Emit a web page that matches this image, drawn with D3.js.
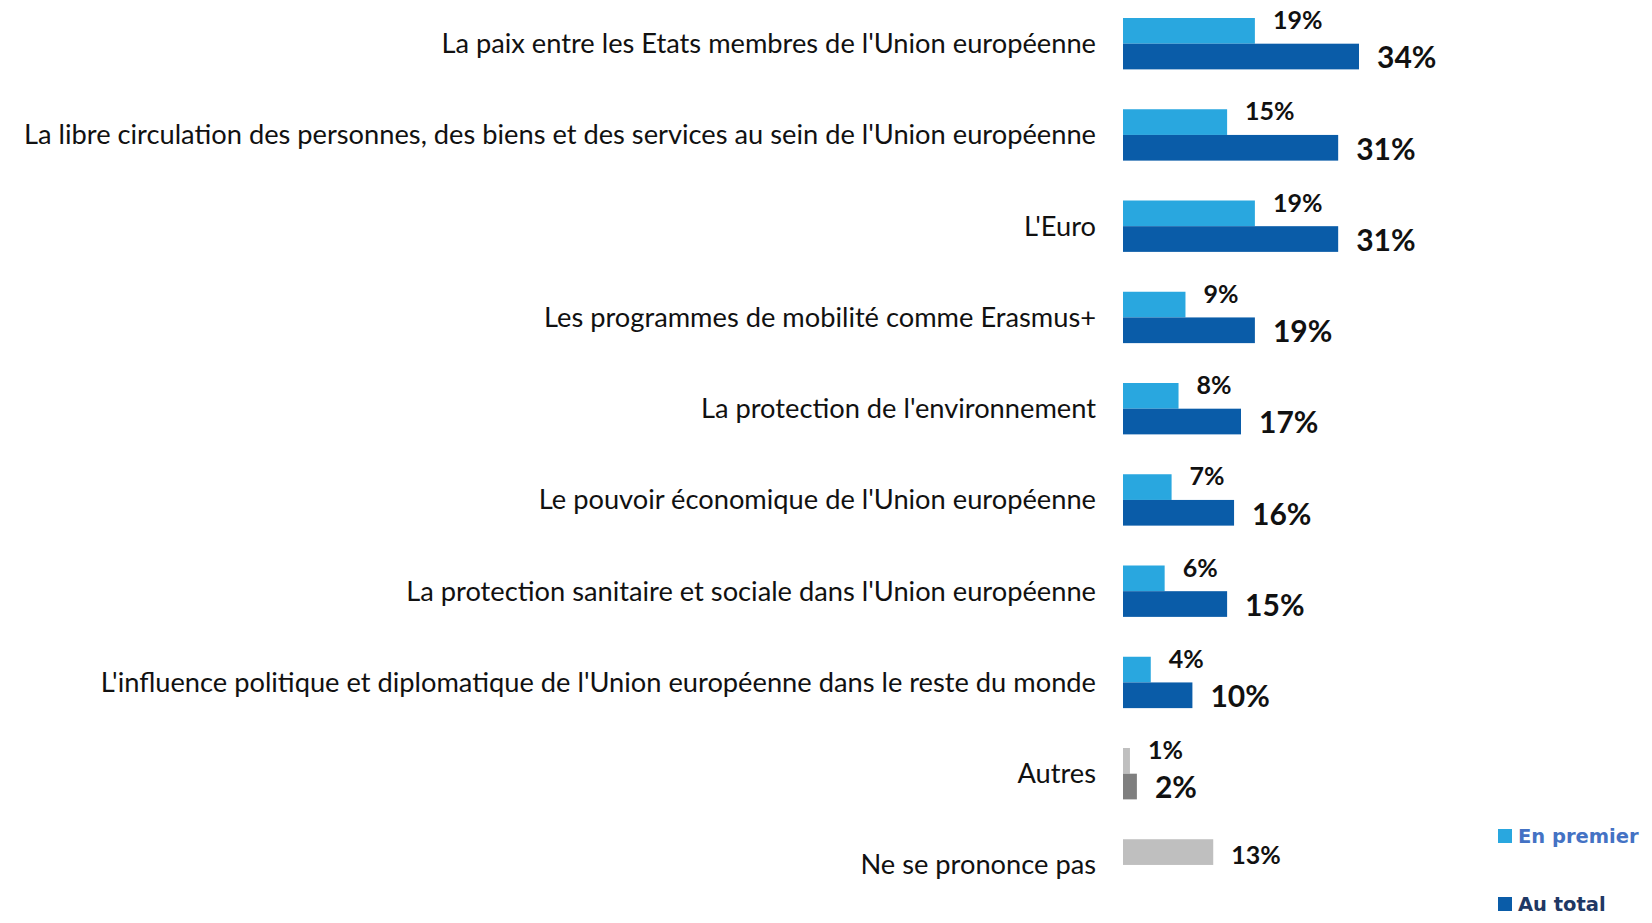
<!DOCTYPE html>
<html>
<head>
<meta charset="utf-8">
<script src="https://cdn.jsdelivr.net/npm/d3@7"></script>
<style>
  html, body { margin: 0; padding: 0; background: #fff; }
  svg { display: block; }
</style>
</head>
<body>
<svg id="chart"></svg>
<script>
// --- data ---
const categories = [
    "La paix entre les Etats membres de l'Union européenne",
    "La libre circulation des personnes, des biens et des services au sein de l'Union européenne",
    "L'Euro",
    "Les programmes de mobilité comme Erasmus+",
    "La protection de l'environnement",
    "Le pouvoir économique de l'Union européenne",
    "La protection sanitaire et sociale dans l'Union européenne",
    "L'influence politique et diplomatique de l'Union européenne dans le reste du monde",
    "Autres",
    "Ne se prononce pas"
];
const enPremier = [19, 15, 19, 9, 8, 7, 6, 4, 1, 13];
const auTotal = [34, 31, 31, 19, 17, 16, 15, 10, 2, null];
const seriesNames = ["En premier", "Au total"];

document.addEventListener("DOMContentLoaded", () => {
    const width = 1652, height = 923;
    const svg = d3.select("#chart").attr("width", width).attr("height", height);

    const barX0 = 1123;
    const labelRight = 1096;

    // colours per category (Autres / NSPP in grey)
    const lightCol = (i) => i >= 8 ? "#bfbfbf" : "#29a7df";
    const darkCol = (i) => i >= 8 ? "#7f7f7f" : "#0a5ca8";

    const x = d3.scaleLinear().domain([0, 34]).range([barX0, barX0 + 236]);

    const step = 91.25, pad = 0.437;
    const yTop = 18 - step * pad / 2;
    const y = d3.scaleBand()
        .domain(d3.range(categories.length))
        .range([yTop, yTop + step * categories.length])
        .paddingInner(pad)
        .paddingOuter(pad / 2);

    const inner = d3.scaleBand().domain(seriesNames).range([0, y.bandwidth()]);

    // category labels (fit longest label to the reference width)
    const labels = svg.append("g")
        .selectAll("text")
        .data(categories)
        .join("text")
        .attr("x", labelRight)
        .attr("y", (d, i) => y(i) + y.bandwidth() / 2)
        .attr("dy", "0.35em")
        .attr("text-anchor", "end")
        .style("font-family", "Lato, 'Open Sans', sans-serif")
        .style("font-size", "26px")
        .style("fill", "#111")
        .text((d) => d);
    const longest = d3.max(labels.nodes(), (n) => n.getComputedTextLength());
    labels.style("font-size", (26 * 1072 / longest).toFixed(2) + "px");

    const rows = categories.map((c, i) => ({ i, premier: enPremier[i], total: auTotal[i] }));

    // light bars
    svg.append("g").selectAll("rect")
        .data(rows)
        .join("rect")
        .attr("x", barX0)
        .attr("y", (d) => y(d.i) + inner("En premier"))
        .attr("width", (d) => x(d.premier) - barX0)
        .attr("height", inner.bandwidth())
        .attr("fill", (d) => lightCol(d.i));

    // dark bars
    const totals = rows.filter((d) => d.total != null);
    svg.append("g").selectAll("rect")
        .data(totals)
        .join("rect")
        .attr("x", barX0)
        .attr("y", (d) => y(d.i) + inner("Au total"))
        .attr("width", (d) => x(d.total) - barX0)
        .attr("height", inner.bandwidth())
        .attr("fill", (d) => darkCol(d.i));

    // value labels
    svg.append("g").selectAll("text")
        .data(rows)
        .join("text")
        .attr("x", (d) => x(d.premier) + 18)
        .attr("y", (d) => d.total == null
            ? y(d.i) + inner("En premier") + inner.bandwidth() - 1
            : y(d.i) + inner("En premier") + 11)
        .style("font-family", "Lato, sans-serif")
        .style("font-weight", "700")
        .style("font-size", "25px")
        .style("fill", "#111")
        .text((d) => d.premier + "%");

    svg.append("g").selectAll("text")
        .data(totals)
        .join("text")
        .attr("x", (d) => x(d.total) + 18)
        .attr("y", (d) => y(d.i) + inner("Au total") + inner.bandwidth() - 1)
        .style("font-family", "Lato, sans-serif")
        .style("font-weight", "700")
        .style("font-size", "30px")
        .style("fill", "#111")
        .text((d) => d.total + "%");

    // legend
    const legendCols = ["#29a7df", "#0a5ca8"];
    const legendText = ["#4472c4", "#1f3864"];
    const legend = svg.append("g").selectAll("g")
        .data(seriesNames)
        .join("g")
        .attr("transform", (d, i) => `translate(1498, ${829 + i * 68})`);
    legend.append("rect")
        .attr("width", 14).attr("height", 14)
        .attr("fill", (d, i) => legendCols[i]);
    legend.append("text")
        .attr("x", 20).attr("y", 14)
        .style("font-family", "'DejaVu Sans', sans-serif")
        .style("font-weight", "700")
        .style("font-size", "19.5px")
        .style("fill", (d, i) => legendText[i])
        .text((d) => d);
});
</script>
</body>
</html>
